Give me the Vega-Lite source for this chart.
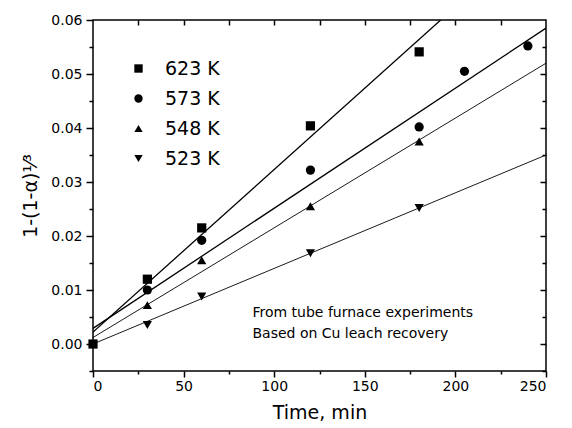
{
  "$schema": "https://vega.github.io/schema/vega-lite/v6.json",
  "width": 453,
  "height": 351,
  "autosize": "none",
  "padding": {"left": 93, "top": 20, "right": 26, "bottom": 57},
  "background": "white",
  "config": {
    "font": "DejaVu Sans",
    "view": {"stroke": "black", "strokeWidth": 1.5},
    "axis": {"domain": false, "grid": false, "tickColor": "black", "tickWidth": 1.5, "labelColor": "black", "titleColor": "black", "labelFontWeight": "normal", "titleFontWeight": "normal"}
  },
  "datasets": {
    "points": [
      {"T": "623 K", "t": 0, "v": 0.0},
      {"T": "623 K", "t": 30, "v": 0.012},
      {"T": "623 K", "t": 60, "v": 0.0215},
      {"T": "623 K", "t": 120, "v": 0.0404},
      {"T": "623 K", "t": 180, "v": 0.0541},
      {"T": "573 K", "t": 30, "v": 0.0100},
      {"T": "573 K", "t": 60, "v": 0.0192},
      {"T": "573 K", "t": 120, "v": 0.0322},
      {"T": "573 K", "t": 180, "v": 0.0402},
      {"T": "573 K", "t": 205, "v": 0.0505},
      {"T": "573 K", "t": 240, "v": 0.0552},
      {"T": "548 K", "t": 30, "v": 0.0072},
      {"T": "548 K", "t": 60, "v": 0.0155},
      {"T": "548 K", "t": 120, "v": 0.0255},
      {"T": "548 K", "t": 180, "v": 0.0375},
      {"T": "523 K", "t": 30, "v": 0.0035},
      {"T": "523 K", "t": 60, "v": 0.0088},
      {"T": "523 K", "t": 120, "v": 0.0168},
      {"T": "523 K", "t": 180, "v": 0.0252}
    ],
    "thick": [
      {"T": "623 K", "t": 0, "v": 0.0022},
      {"T": "623 K", "t": 250, "v": 0.0775},
      {"T": "573 K", "t": 0, "v": 0.0029},
      {"T": "573 K", "t": 250, "v": 0.0585}
    ],
    "thin": [
      {"T": "548 K", "t": 0, "v": 0.0012},
      {"T": "548 K", "t": 250, "v": 0.052},
      {"T": "523 K", "t": 0, "v": 0.0},
      {"T": "523 K", "t": 250, "v": 0.035}
    ],
    "notes": [
      {"t": 88, "v": 0.0050, "label": "From tube furnace experiments"},
      {"t": 88, "v": 0.0011, "label": "Based on Cu leach recovery"}
    ]
  },
  "layer": [
    {
      "data": {"name": "points"},
      "mark": {"type": "point", "filled": true, "size": 85, "color": "black", "opacity": 1},
      "encoding": {
        "x": {"field": "t", "type": "quantitative", "scale": {"domain": [0, 250], "nice": false, "zero": false},
          "axis": {"orient": "bottom", "values": [0, 50, 100, 150, 200, 250], "tickSize": 6, "labelFontSize": 14, "labelPadding": 2, "title": "Time, min", "titleFontSize": 19, "titlePadding": 10}},
        "y": {"field": "v", "type": "quantitative", "scale": {"domain": [-0.005, 0.06], "nice": false, "zero": false},
          "axis": {"orient": "left", "values": [0, 0.01, 0.02, 0.03, 0.04, 0.05, 0.06], "format": ".2f", "tickSize": 7, "labelFontSize": 14, "labelPadding": 4, "title": "1-(1-α)¹⁄³", "titleFontSize": 19, "titlePadding": 10}},
        "shape": {"field": "T", "type": "nominal",
          "scale": {"domain": ["623 K", "573 K", "548 K", "523 K"], "range": ["square", "circle", "triangle-up", "triangle-down"]},
          "legend": {"title": null, "orient": "none", "legendX": 36, "legendY": 39, "labelFontSize": 19, "labelOffset": 17, "symbolSize": 70, "symbolFillColor": "black", "symbolStrokeColor": "black", "rowPadding": 10, "padding": 0, "labelColor": "black"}}
      }
    },
    {
      "data": {"name": "thick"},
      "mark": {"type": "line", "color": "black", "strokeWidth": 1.3, "clip": true},
      "encoding": {
        "x": {"field": "t", "type": "quantitative", "axis": {"orient": "bottom", "values": [25, 75, 125, 175, 225], "tickSize": 3, "labels": false, "title": null}},
        "y": {"field": "v", "type": "quantitative", "axis": {"orient": "left", "values": [-0.005, 0.005, 0.015, 0.025, 0.035, 0.045, 0.055], "tickSize": 4, "labels": false, "title": null}},
        "detail": {"field": "T"}
      }
    },
    {
      "data": {"name": "thin"},
      "mark": {"type": "line", "color": "black", "strokeWidth": 0.9, "clip": true},
      "encoding": {
        "x": {"field": "t", "type": "quantitative", "axis": {"orient": "top", "values": [25, 50, 75, 100, 125, 150, 175, 200, 225], "tickSize": -5, "labels": false, "title": null}},
        "y": {"field": "v", "type": "quantitative", "axis": {"orient": "right", "values": [0, 0.01, 0.02, 0.03, 0.04, 0.05], "tickSize": -6, "labels": false, "title": null}},
        "detail": {"field": "T"}
      }
    },
    {
      "data": {"name": "notes"},
      "mark": {"type": "text", "align": "left", "baseline": "alphabetic", "fontSize": 14, "color": "black"},
      "encoding": {
        "x": {"field": "t", "type": "quantitative", "axis": null},
        "y": {"field": "v", "type": "quantitative", "axis": {"orient": "right", "values": [-0.005, 0.005, 0.015, 0.025, 0.035, 0.045, 0.055], "tickSize": -4, "labels": false, "title": null}},
        "text": {"field": "label"}
      }
    }
  ],
  "resolve": {"axis": {"x": "independent", "y": "independent"}}
}
